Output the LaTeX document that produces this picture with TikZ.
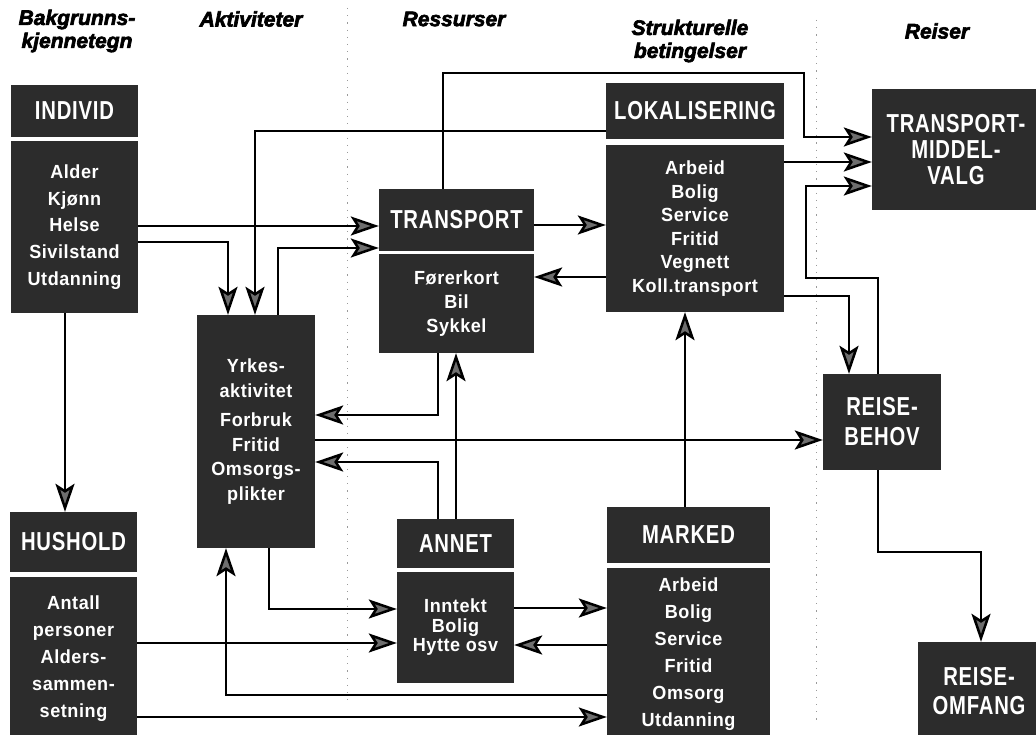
\documentclass[tikz,border=0pt]{standalone}
\usepackage{fontspec}
\setmainfont{Liberation Sans}
\newfontfamily\hdrfont[FakeStretch=0.78,LetterSpace=3]{Liberation Sans}
\newfontfamily\txtfont[FakeStretch=0.95,LetterSpace=3]{Liberation Sans}
\newfontfamily\colfont[FakeBold=3]{Liberation Sans}
\usetikzlibrary{arrows.meta}
\definecolor{boxfill}{HTML}{2C2C2C}
\definecolor{arrowgray}{HTML}{6E6E6E}
\definecolor{dotgray}{HTML}{9A9A9A}
\tikzset{
  dbox/.style={fill=boxfill, text=white, inner sep=0pt, align=center},
  hdr/.style={dbox, font=\hdrfont\bfseries\fontsize{26}{#1}\selectfont},
  hdr/.default=30,
  txt/.style={dbox, font=\txtfont\bfseries\fontsize{19}{#1}\selectfont},
  txt/.default=27,
  coltitle/.style={font=\colfont\bfseries\itshape\fontsize{21}{23}\selectfont, align=center, inner sep=0pt},
  arr/.style={draw=black, line width=2.5pt, line join=miter,
    -{Stealth[length=28pt,width=19pt,inset=6pt,fill=arrowgray]}},
  dotline/.style={draw=dotgray, line width=1pt, dash pattern=on 1.2pt off 6pt},
}
\begin{document}
\begin{tikzpicture}[x=1pt,y=-1pt]
\useasboundingbox (0,0) rectangle (1036,735);

% dotted column separators
\draw[dotline] (347,8) -- (347,700);
\draw[dotline] (816,20) -- (816,720);

% column titles
\node[coltitle] (t1) at (77,31) {Bakgrunns-\\kjennetegn};
\node[coltitle] (t2) at (251,19) {Aktiviteter};
\node[coltitle] (t3) at (454,19) {Ressurser};
\node[coltitle] (t4) at (690,41) {Strukturelle\\betingelser};
\node[coltitle] (t5) at (937,31) {Reiser};

% boxes
\node[hdr, minimum width=127pt, minimum height=52pt] (indh) at (74.5,111) {INDIVID};
\node[txt=26.75, minimum width=127pt, minimum height=172pt] (indb) at (74.5,227)
  {Alder\\Kjønn\\Helse\\Sivilstand\\Utdanning};

\node[hdr, minimum width=127pt, minimum height=60pt] (hush) at (73.5,542) {HUSHOLD};
\node[txt=27, minimum width=127pt, minimum height=163pt] (husb) at (73.5,658.5)
  {Antall\\personer\\Alders-\\sammen-\\setning};

\node[txt=24.5, minimum width=118pt, minimum height=233pt] (act) at (256,431.5)
  {Yrkes-\\aktivitet\\[5pt]Forbruk\\Fritid\\Omsorgs-\\plikter};

\node[hdr, minimum width=155pt, minimum height=62pt] (trh) at (456.5,220) {TRANSPORT};
\node[txt=24, minimum width=155pt, minimum height=99pt] (trb) at (456.5,303.5)
  {Førerkort\\Bil\\Sykkel};

\node[hdr, minimum width=178pt, minimum height=56pt] (lokh) at (695,111) {LOKALISERING};
\node[txt=23.6, minimum width=178pt, minimum height=167pt] (lokb) at (695,228.5)
  {Arbeid\\Bolig\\Service\\Fritid\\Vegnett\\Koll.transport};

\node[hdr=26, minimum width=168pt, minimum height=121pt] (tmv) at (956,149.5)
  {TRANSPORT-\\MIDDEL-\\VALG};

\node[hdr=30, minimum width=118pt, minimum height=96pt] (rbeh) at (882,422)
  {REISE-\\BEHOV};

\node[hdr=29, minimum width=122pt, minimum height=98pt] (romf) at (979,691)
  {REISE-\\OMFANG};

\node[hdr, minimum width=117pt, minimum height=49pt] (annh) at (455.5,543.5) {ANNET};
\node[txt=19.5, minimum width=117pt, minimum height=111pt] (annb) at (455.5,627.5)
  {Inntekt\\Bolig\\Hytte osv};

\node[hdr, minimum width=163pt, minimum height=56pt] (markh) at (688.5,535) {MARKED};
\node[txt=27, minimum width=163pt, minimum height=172pt] (markb) at (688.5,654)
  {Arbeid\\Bolig\\Service\\Fritid\\Omsorg\\Utdanning};

% connectors
\draw[arr] (indb.east |- 0,226) -- (trh.west |- 0,226);
\draw[arr] (indb.east |- 0,242) -| (act.north -| 228,0);
\draw[arr] (lokh.west |- 0,131) -| (act.north -| 255,0);
\draw[arr] (trh.north -| 443,0) |- (804,73) |- (tmv.west |- 0,137);
\draw[arr] (act.north -| 278,0) |- (trh.west |- 0,248);
\draw[arr] (trh.east |- 0,225) -- (lokb.west |- 0,225);
\draw[arr] (lokb.west |- 0,277) -- (trb.east |- 0,277);
\draw[arr] (lokb.east |- 0,162) -- (tmv.west |- 0,162);
\draw[arr] (rbeh.north -| 878,0) |- (806,278) |- (tmv.west |- 0,186);
\draw[arr] (lokb.east |- 0,296) -| (rbeh.north -| 849,0);
\draw[arr] (act.east |- 0,440) -- (rbeh.west |- 0,440);
\draw[arr] (trb.south -| 438,0) |- (act.east |- 0,415);
\draw[arr] (annh.north -| 456,0) -- (trb.south -| 456,0);
\draw[arr] (annh.north -| 438,0) |- (act.east |- 0,462);
\draw[arr] (markh.north -| 685,0) -- (lokb.south -| 685,0);
\draw[arr] (act.south -| 269,0) |- (annb.west |- 0,609);
\draw[arr] (husb.east |- 0,643) -- (annb.west |- 0,643);
\draw[arr] (annb.east |- 0,608) -- (markb.west |- 0,608);
\draw[arr] (markb.west |- 0,645) -- (annb.east |- 0,645);
\draw[arr] (markb.west |- 0,695) -| (act.south -| 226,0);
\draw[arr] (husb.east |- 0,717) -- (markb.west |- 0,717);
\draw[arr] (indb.south -| 65,0) -- (hush.north -| 65,0);
\draw[arr] (rbeh.south -| 878,0) |- (981,552) -- (romf.north -| 981,0);
\end{tikzpicture}
\end{document}
